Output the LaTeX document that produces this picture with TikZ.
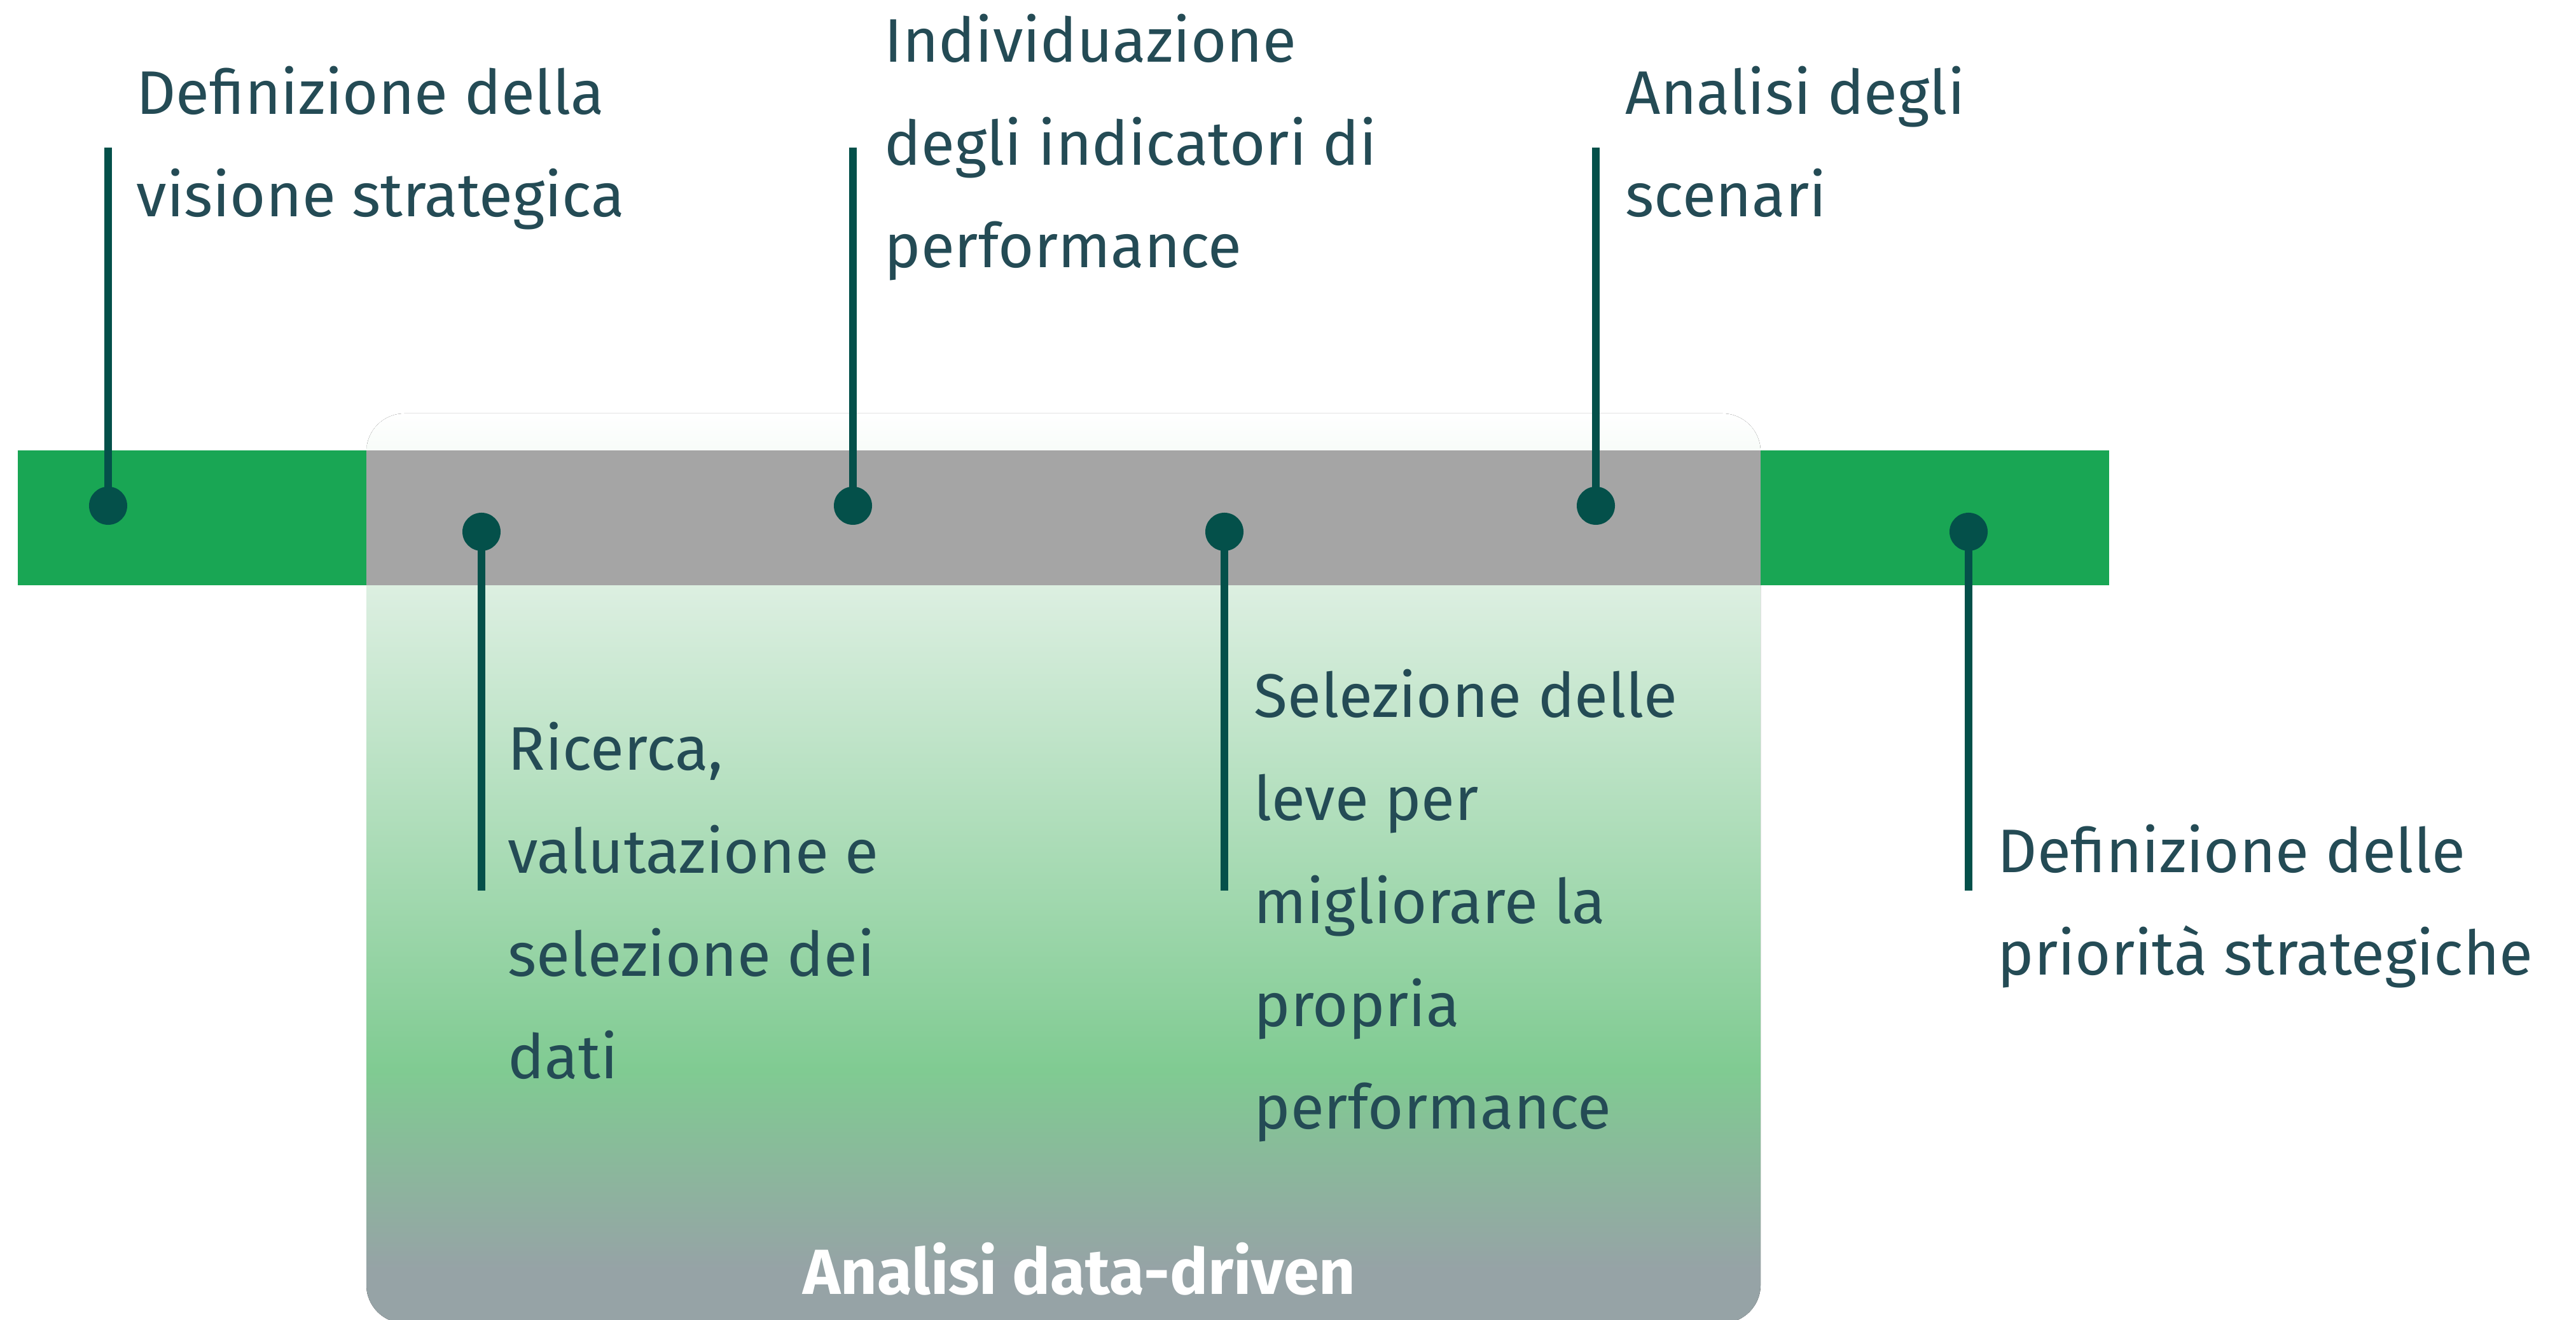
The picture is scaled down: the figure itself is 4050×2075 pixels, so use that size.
\documentclass[tikz,border=0pt]{standalone}
\usepackage{fontspec}
\setmainfont{Fira Sans}

\definecolor{bargreen}{HTML}{19A654}
\definecolor{bargray}{HTML}{A5A5A5}
\definecolor{pincolor}{HTML}{04504A}
\definecolor{labelcolor}{HTML}{244B55}
\definecolor{shadegray}{HTML}{96A3A6}
\definecolor{shadegreen}{HTML}{80CB92}
\definecolor{shadelight}{HTML}{DCEFE1}

% panel shading: 25bp = bottom of the panel, 75bp = top
\pgfdeclareverticalshading{panelshade}{100bp}{color(0bp)=(shadegray); color(25bp)=(shadegray); color(28bp)=(shadegray); color(38.9bp)=(shadegreen); color(65.5bp)=(shadelight); color(75bp)=(white); color(100bp)=(white)}

\begin{document}
\begin{tikzpicture}
        [x=0.01cm, y=0.01cm,
        pin/.style={circle, fill=pincolor, inner sep=0pt, minimum size=0.6cm},
        stem/.style={pincolor, line width=3.4pt},
        phase/.style={anchor=base west, inner sep=0pt, align=left, text=labelcolor, font=\fontsize{27.5}{46}\selectfont},
        title/.style={anchor=base, inner sep=0pt, text=white, font=\fontsize{28.5}{34}\selectfont\bfseries}]

        \useasboundingbox (0,0) rectangle (4050,2075);

        % data-driven panel behind the bar
        \fill[shading=panelshade, rounded corners=0.6cm] (576,-5) rectangle (2768,1425);

        % the bar
        \fill[bargreen] (28,1155) rectangle (576,1367);
        \fill[bargray] (576,1155) rectangle (2768,1367);
        \fill[bargreen] (2768,1155) rectangle (3316,1367);

        % pins on the bar
        \node[pin] (p1) at (170,1280) {};
        \node[pin] (p2) at (757,1239) {};
        \node[pin] (p3) at (1341,1280) {};
        \node[pin] (p4) at (1925,1239) {};
        \node[pin] (p5) at (2509,1280) {};
        \node[pin] (p6) at (3095,1239) {};

        % stem ends
        \coordinate (e1) at (170,1843);
        \coordinate (e2) at (757,675);
        \coordinate (e3) at (1341,1843);
        \coordinate (e4) at (1925,675);
        \coordinate (e5) at (2509,1843);
        \coordinate (e6) at (3095,675);

        \draw[stem] (p1.center) -- (e1);
        \draw[stem] (p2.center) -- (e2);
        \draw[stem] (p3.center) -- (e3);
        \draw[stem] (p4.center) -- (e4);
        \draw[stem] (p5.center) -- (e5);
        \draw[stem] (p6.center) -- (e6);

        % labels of the phases (anchored at the last baseline)
        \node[phase] (visione) at (214,1734) {Definizione della\\visione strategica};
        \node[phase] (indicatori) at (1390,1654) {Individuazione\\degli indicatori di\\performance};
        \node[phase] (scenari) at (2555,1734) {Analisi degli\\scenari};
        \node[phase] (dati) at (798,379) {Ricerca,\\valutazione e\\selezione dei\\dati};
        \node[phase] (leve) at (1971,300) {Selezione delle\\leve per\\migliorare la\\propria\\performance};
        \node[phase] (priorita) at (3140,542) {Definizione delle\\priorità strategiche};

        \node[title] (analisi) at (1697,40) {Analisi data-driven};

        \end{tikzpicture}
\end{document}
